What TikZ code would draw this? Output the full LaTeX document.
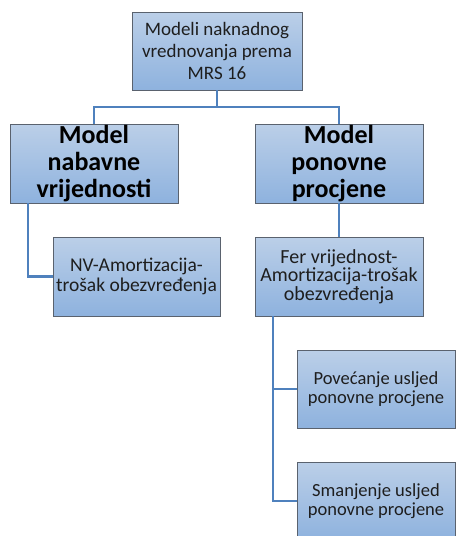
\documentclass[tikz,border=0pt]{standalone}
\usepackage{fontspec}
\setmainfont{Carlito}
\definecolor{boxtop}{RGB}{187,207,232}
\definecolor{boxbot}{RGB}{142,178,222}
\definecolor{boxline}{RGB}{90,98,110}
\definecolor{linkblue}{RGB}{79,129,189}
\definecolor{txt}{RGB}{30,30,30}
\tikzset{
  x=1pt, y=-1pt,
  modelbox/.style={draw=boxline, line width=0.8pt, top color=boxtop, bottom color=boxbot,
    align=center, text=txt, inner sep=1pt},
  headbox/.style={modelbox, minimum width=170pt, minimum height=78pt,
    font=\fontsize{19}{22}\selectfont},
  bigbox/.style={modelbox, minimum width=168pt, minimum height=79pt, text=black,
    font=\bfseries\fontsize{26}{27}\selectfont},
  smallbox/.style={modelbox, minimum width=167pt, minimum height=79pt,
    font=\fontsize{19.5}{19.5}\selectfont},
  ferbox/.style={modelbox, minimum width=168pt, minimum height=79pt,
    font=\fontsize{20}{17}\selectfont},
  sidebox/.style={modelbox, minimum width=158pt, minimum height=78pt,
    font=\fontsize{18.5}{19}\selectfont},
  link/.style={draw=linkblue, line width=2.1pt}
}
\begin{document}
\begin{tikzpicture}
\clip (0,0) rectangle (459,536);

% branching point under the top box
\coordinate (split) at (217,107);

% boxes
\node[headbox] (top) at (217,51) {Modeli naknadnog\\vrednovanja prema\\MRS 16};
\node[bigbox] (cost) at (94,163.5) {Model\\nabavne\\vrijednosti};
\node[bigbox] (reval) at (339,163.5) {Model\\ponovne\\procjene};
\node[smallbox] (nv) at (136.5,276.5) {NV-Amortizacija-\\trošak obezvređenja};
\node[ferbox] (fer) at (339,276.5) {Fer vrijednost-\\Amortizacija-trošak\\obezvređenja};
\node[sidebox] (inc) at (376,389) {Povećanje usljed\\ponovne procjene};
\node[sidebox] (dec) at (376,501) {Smanjenje usljed\\ponovne procjene};

% tree links
\draw[link] (top.south) -- (split);
\draw[link] (split) -| (cost.north);
\draw[link] (split) -| (reval.north);
\draw[link] ([xshift=18pt]cost.south west) |- (nv.west);
\draw[link] (reval.south) -- (fer.north);
\draw[link] ([xshift=18pt]fer.south west) |- (inc.west);
\draw[link] ([xshift=18pt]fer.south west) |- (dec.west);
\end{tikzpicture}
\end{document}
